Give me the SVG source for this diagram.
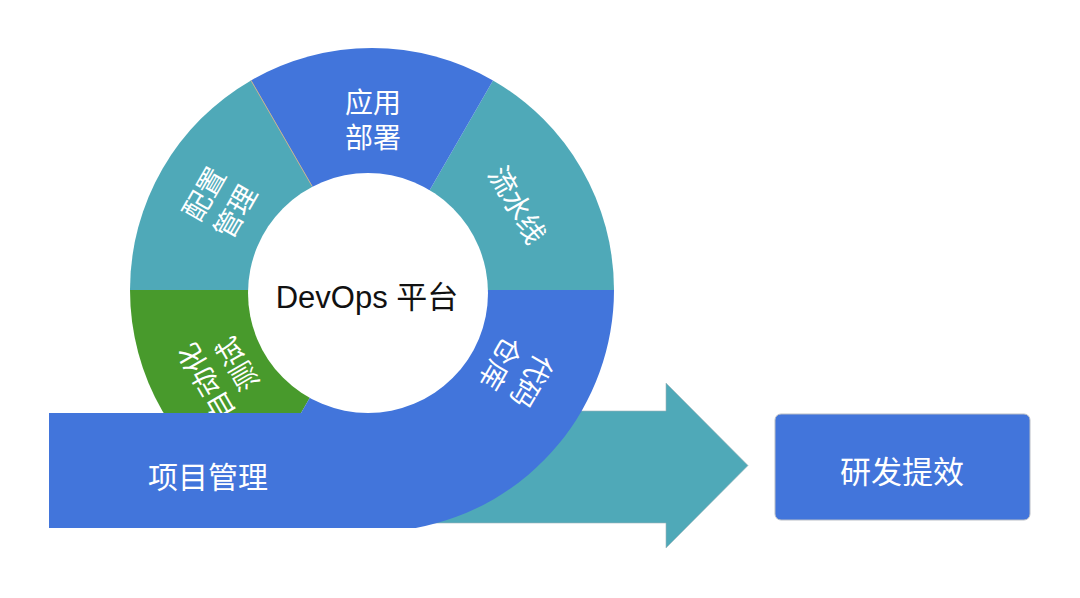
<svg xmlns="http://www.w3.org/2000/svg" width="1080" height="598" viewBox="0 0 1080 598">
  <style>
    .blue { fill: #4275db; }
    .teal { fill: #4fa9b8; }
    .green { fill: #489a2c; }
    .lbl { fill: #ffffff; font-family: "Noto Sans CJK SC", "Noto Sans", sans-serif; font-size: 28px; text-anchor: middle; }
    .big { fill: #ffffff; font-family: "Noto Sans CJK SC", "Noto Sans", sans-serif; font-size: 30px; text-anchor: middle; }
    .center { fill: #111111; font-family: "Liberation Sans", "Noto Sans CJK SC", sans-serif; font-size: 31px; text-anchor: middle; }
  </style>
  <rect x="0" y="0" width="1080" height="598" fill="#ffffff"/>

  <g id="connectors">
    <polygon id="arrow" class="teal" points="372,411 666,411 666,383 748,465.5 666,548 666,523 372,523" stroke="#9fb3b8" stroke-width="0.6"/>
  </g>

  <g id="ring">
    <path id="seg-config" class="teal" d="M372,290 L130,290 A242,242 0 0 1 251,80.4 Z"/>
    <path id="seg-pipeline" class="teal" d="M372,290 L493,80.4 A242,242 0 0 1 614,290 Z"/>
    <path id="seg-deploy" class="blue" d="M372,290 L251,80.4 A242,242 0 0 1 493,80.4 Z"/>
    <line x1="251" y1="80.4" x2="312" y2="186" stroke="#c8b28c" stroke-width="1"/>
    <path id="seg-test" class="green" d="M372,290 L251,499.6 A242,242 0 0 1 130,290 Z"/>
  </g>

  <g id="node-test" transform="translate(222,373) rotate(240)">
    <text class="lbl" x="0" y="-8">自动化<tspan x="0" dy="36">测试</tspan></text>
  </g>

  <g id="node-project">
    <path id="seg-repo-bar" class="blue" d="M372,290 L614,290 A242,242 0 0 1 415.8,528 L49,528 L49,413 L301,413 Z"/>
    <text class="big" x="208" y="488">项目管理</text>
  </g>

  <g id="node-platform">
    <circle cx="368" cy="293" r="120" fill="#ffffff"/>
    <text class="center" x="367" y="308">DevOps 平台</text>
  </g>

  <g id="node-deploy" transform="translate(373,120)">
    <text class="lbl" x="0" y="-7">应用<tspan x="0" dy="35">部署</tspan></text>
  </g>

  <g id="node-pipeline" transform="translate(517,205) rotate(60)">
    <text class="lbl" x="0" y="10">流水线</text>
  </g>

  <g id="node-repo" transform="translate(516,372) rotate(120)">
    <text class="lbl" x="0" y="-8">代码<tspan x="0" dy="36">仓库</tspan></text>
  </g>

  <g id="node-config" transform="translate(220,203) rotate(-60)">
    <text class="lbl" x="0" y="-8">配置<tspan x="0" dy="36">管理</tspan></text>
  </g>

  <g id="node-result">
    <rect x="775" y="414" width="255" height="106" rx="6" ry="6" class="blue" stroke="#b9bec6" stroke-width="1"/>
    <text class="big" x="902" y="483" style="font-size:31px">研发提效</text>
  </g>
</svg>
